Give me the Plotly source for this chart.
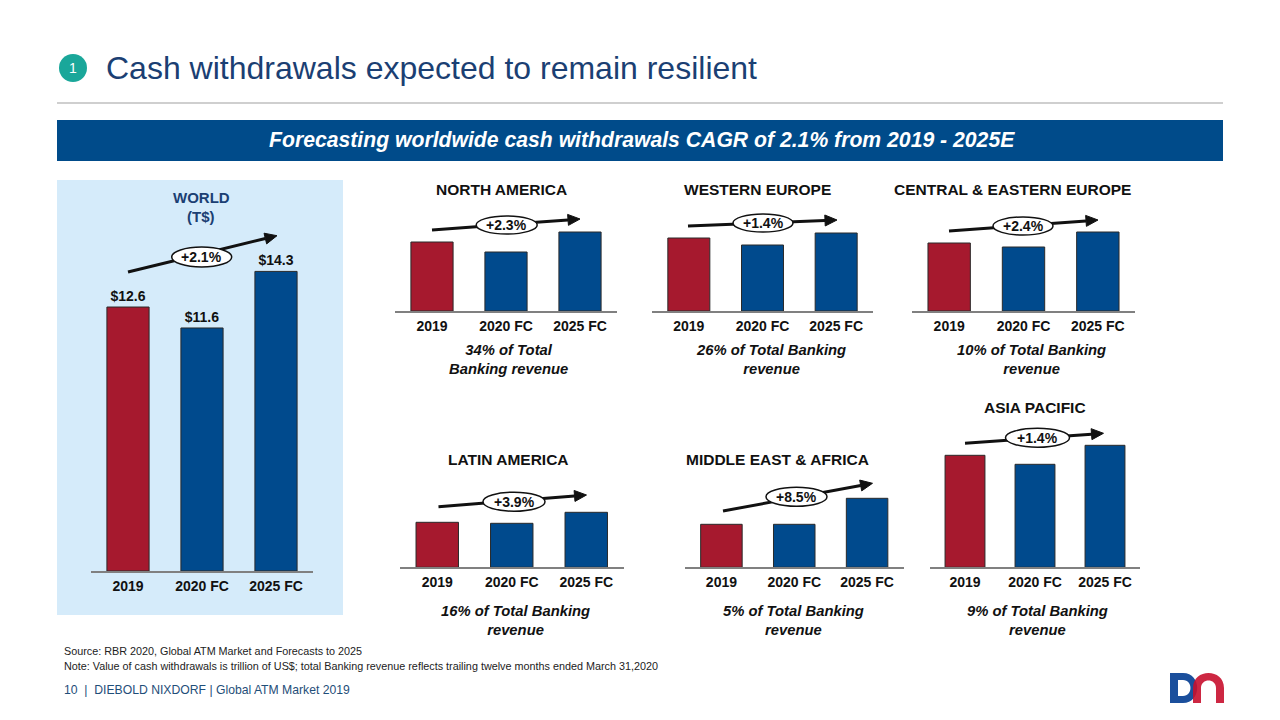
import plotly.graph_objects as go
import math

# ---------------- data ----------------
categories = ["2019", "2020 FC", "2025 FC"]
world_values = [12.6, 11.6, 14.3]           # T$
world_labels = ["$12.6", "$11.6", "$14.3"]
# regional charts have no value scale; heights (relative units)
north_america = [69, 59, 79]
western_europe = [73, 66, 78]
central_eastern_europe = [68, 64, 79]
latin_america = [45, 44, 55]
middle_east_africa = [43, 43, 69]
asia_pacific = [112, 103, 122]
cagr_labels = ["+2.1%", "+2.3%", "+1.4%", "+2.4%", "+3.9%", "+8.5%", "+1.4%"]
region_titles = ["NORTH AMERICA", "WESTERN EUROPE", "CENTRAL & EASTERN EUROPE",
                 "LATIN AMERICA", "MIDDLE EAST & AFRICA", "ASIA PACIFIC"]
revenue_shares = ["34% of Total<br>Banking revenue", "26% of Total Banking<br>revenue",
                  "10% of Total Banking<br>revenue", "16% of Total Banking<br>revenue",
                  "5% of Total Banking<br>revenue", "9% of Total Banking<br>revenue"]

RED = "#A6192E"
BLUE = "#004A8D"
NAVY = "#1B3F73"
FONT = "Liberation Sans, Arial, sans-serif"
W, H = 1280, 720


def X(x):
    return x / W


def Y(y):
    return 1 - y / H


def text(t, x, y, size, color="#111", xanchor="center", align="center"):
    return dict(text=t, x=X(x), y=Y(y), xref="paper", yref="paper",
                xanchor=xanchor, yanchor="middle", align=align, showarrow=False,
                font=dict(family=FONT, size=size, color=color))


fig = go.Figure()

# chart geometry in pixels
charts = [
    dict(vals=world_values, x0=91, x1=313, base=571, top=230, ymax=341 / 20.95),
    dict(vals=north_america, x0=395, x1=617, base=311, top=211, ymax=100),
    dict(vals=western_europe, x0=652, x1=873, base=311, top=211, ymax=100),
    dict(vals=central_eastern_europe, x0=912, x1=1135, base=311, top=211, ymax=100),
    dict(vals=latin_america, x0=400, x1=623.5, base=567.3, top=437.3, ymax=130),
    dict(vals=middle_east_africa, x0=685, x1=903.5, base=567.3, top=437.3, ymax=130),
    dict(vals=asia_pacific, x0=930, x1=1140, base=567.3, top=437.3, ymax=130),
]

layout_axes = {}
for i, c in enumerate(charts):
    n = "" if i == 0 else str(i + 1)
    fig.add_trace(go.Bar(
        x=categories, y=c["vals"],
        marker=dict(color=[RED, BLUE, BLUE], line=dict(color="#2a2a2a", width=1)),
        text=world_labels if i == 0 else None,
        textposition="outside" if i == 0 else None,
        textfont=dict(family=FONT, size=14, color="#111", weight="bold"),
        cliponaxis=False,
        xaxis="x" + n, yaxis="y" + n, showlegend=False, hoverinfo="skip",
    ))
    layout_axes["xaxis" + n] = dict(
        domain=[X(c["x0"]), X(c["x1"])], anchor="y" + n,
        type="category", range=[-0.5, 2.5],
        showline=True, linecolor="#808080", linewidth=2,
        ticks="outside", ticklen=1, tickcolor="rgba(0,0,0,0)",
        tickfont=dict(family=FONT, size=14, color="#111", weight="bold"),
        showgrid=False, zeroline=False, fixedrange=True,
    )
    layout_axes["yaxis" + n] = dict(
        domain=[Y(c["base"]), Y(c["top"])], anchor="x" + n,
        range=[0, c["ymax"]], visible=False, fixedrange=True,
    )

shapes = []
annotations = []

# world background panel
shapes.append(dict(type="rect", xref="paper", yref="paper", layer="below",
                   x0=X(57), x1=X(343), y0=Y(615), y1=Y(180),
                   fillcolor="#D5EBFA", line=dict(width=0)))

# header
shapes.append(dict(type="circle", xref="paper", yref="paper",
                   x0=X(59), x1=X(87), y0=Y(82), y1=Y(54),
                   fillcolor="#1AA79A", line=dict(width=0)))
annotations.append(text("1", 73, 68, 14, "white"))
annotations.append(text("Cash withdrawals expected to remain resilient", 104, 68, 32, NAVY, xanchor="left"))
shapes.append(dict(type="line", xref="paper", yref="paper",
                   x0=X(57), x1=X(1223), y0=Y(103), y1=Y(103),
                   line=dict(color="#BFBFBF", width=1.5)))
shapes.append(dict(type="rect", xref="paper", yref="paper",
                   x0=X(57), x1=X(1223), y0=Y(161), y1=Y(120),
                   fillcolor="#004B8A", line=dict(width=0)))
annotations.append(text("<i><b>Forecasting worldwide cash withdrawals CAGR of 2.1% from 2019 - 2025E</b></i>",
                        642, 140, 21.2, "white"))

# world title
annotations.append(text("<b>WORLD</b>", 201, 197, 15, NAVY))
annotations.append(text("<b>(T$)</b>", 201, 216, 15, NAVY))

# region titles and revenue shares
title_pos = [(501, 190), (757, 190), (1012, 190), (508, 460), (777, 460), (1035, 407)]
share_pos = [(508, 359), (771, 359), (1031, 359), (515, 620), (793, 620), (1037, 620)]
for t, (tx, ty) in zip(region_titles, title_pos):
    annotations.append(text("<b>%s</b>" % t, tx, ty, 15.5))
for s, (sx, sy) in zip(revenue_shares, share_pos):
    annotations.append(text("<b><i>%s</i></b>" % s, sx, sy, 14.8))

# CAGR arrows (tail, head, ellipse centre, ellipse size) in pixels
arrows = [
    ((128, 272), (277, 235.7), (201.7, 257), (60, 20)),
    ((432, 230), (580, 219), (506.7, 225), (61, 18)),
    ((688, 226), (837, 220), (763, 223), (60, 18)),
    ((949, 231), (1098, 220), (1023, 226), (60, 18)),
    ((438.5, 506.7), (586.5, 495), (514, 501.7), (62, 19)),
    ((723, 511), (872.5, 483.3), (796.5, 496.7), (61, 19)),
    ((965, 443.3), (1103.5, 433.3), (1037.5, 437.7), (64, 19)),
]
for lab, (tail, head, ctr, size) in zip(cagr_labels, arrows):
    dx, dy = head[0] - tail[0], head[1] - tail[1]
    L = math.hypot(dx, dy)
    ux, uy = dx / L, dy / L
    hl, hw = 12, 5.5
    bx, by = head[0] - ux * hl, head[1] - uy * hl
    shapes.append(dict(type="line", xref="paper", yref="paper",
                       x0=X(tail[0]), y0=Y(tail[1]), x1=X(bx), y1=Y(by),
                       line=dict(color="#111", width=3)))
    p1 = (bx - uy * hw, by + ux * hw)
    p2 = (bx + uy * hw, by - ux * hw)
    path = "M %f %f L %f %f L %f %f Z" % (X(head[0]), Y(head[1]), X(p1[0]), Y(p1[1]), X(p2[0]), Y(p2[1]))
    shapes.append(dict(type="path", xref="paper", yref="paper", path=path,
                       fillcolor="#111", line=dict(color="#111", width=1)))
    w, h = size
    shapes.append(dict(type="circle", xref="paper", yref="paper",
                       x0=X(ctr[0] - w / 2), x1=X(ctr[0] + w / 2),
                       y0=Y(ctr[1] + h / 2), y1=Y(ctr[1] - h / 2),
                       fillcolor="white", line=dict(color="#111", width=1.5)))
    annotations.append(text("<b>%s</b>" % lab, ctr[0], ctr[1], 14))

# footer
annotations.append(text("Source: RBR 2020, Global ATM Market and Forecasts to 2025",
                        62, 651, 10.8, "#222", xanchor="left"))
annotations.append(text("Note: Value of cash withdrawals is trillion of US$; total Banking revenue reflects trailing twelve months ended March 31,2020",
                        62, 666, 10.8, "#222", xanchor="left"))
annotations.append(text("10  |  DIEBOLD NIXDORF | Global ATM Market 2019",
                        62, 690, 12.2, "#1F4E79", xanchor="left"))


# logo
def P(cmds):
    out = []
    for c in cmds:
        if isinstance(c, str):
            out.append(c)
        else:
            out.append("%f,%f" % (X(c[0]), Y(c[1])))
    return " ".join(out)


d_path = P(["M", (1170, 673), "L", (1183, 673), "C", (1202, 673), (1202, 703), (1183, 703),
            "L", (1170, 703), "Z",
            "M", (1178, 680), "L", (1183, 680), "C", (1193, 680), (1193, 696), (1183, 696),
            "L", (1178, 696), "Z"])
shapes.append(dict(type="path", xref="paper", yref="paper", path=d_path, fillrule="evenodd",
                   fillcolor="#1B4F9C", line=dict(width=0)))
n_path = P(["M", (1193, 703), "L", (1193, 688), "C", (1193, 668), (1224, 668), (1224, 688),
            "L", (1224, 703), "L", (1216, 703), "L", (1216, 688), "C", (1216, 678), (1201, 678),
            (1201, 688), "L", (1201, 703), "Z"])
shapes.append(dict(type="path", xref="paper", yref="paper", path=n_path,
                   fillcolor="#C8102E", opacity=0.9, line=dict(width=0)))

fig.update_layout(
    width=W, height=H,
    margin=dict(l=0, r=0, t=0, b=0),
    paper_bgcolor="white", plot_bgcolor="rgba(0,0,0,0)",
    bargap=0.43,
    shapes=shapes, annotations=annotations,
    font=dict(family=FONT),
    **layout_axes,
)

fig.write_html("out.html",
               config={"displayModeBar": False, "staticPlot": True},
               post_script="document.body.style.margin='0';document.body.style.overflow='hidden';")
